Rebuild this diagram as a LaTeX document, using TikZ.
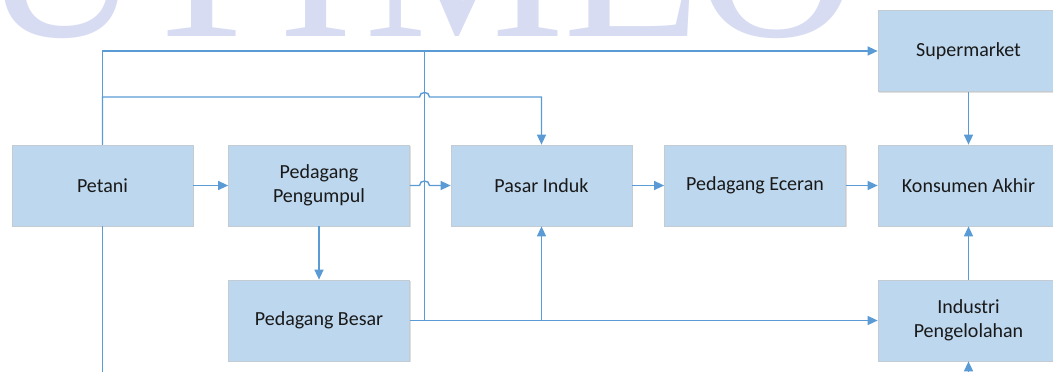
\documentclass[tikz,border=0pt]{standalone}
\usepackage{fontspec}
\setmainfont{Carlito}
\newfontfamily\wmfont{Liberation Serif}
\usetikzlibrary{arrows.meta,shadows}
\definecolor{boxfill}{HTML}{BDD7EE}
\definecolor{boxline}{HTML}{C3CBD3}
\definecolor{conn}{HTML}{5B9BD5}
\definecolor{wm}{RGB}{216,220,243}
\begin{document}
\begin{tikzpicture}[x=1pt,y=-1pt,
  proc/.style={rectangle, fill=boxfill, draw=boxline, line width=0.7pt,
    minimum width=181pt, minimum height=81pt, align=center,
    font=\fontsize{20}{24}\selectfont, text=black!90, inner sep=2pt,
    drop shadow={shadow xshift=1.2pt, shadow yshift=-1.2pt, opacity=0.25, fill=black!50}},
  link/.style={draw=conn, line width=1.4pt},
  arr/.style={link, -{Triangle[length=10pt,width=9pt]}},
  wmletter/.style={text=wm, font=\wmfont\fontsize{225}{225}\selectfont, anchor=base, inner sep=0pt}
]
\useasboundingbox (0,0) rectangle (1053,372);
% watermark fragments
\node[wmletter] (w1) at (62,36) {U};
\node[wmletter] (w2) at (202,36) {T};
\node[wmletter] (w3) at (316,36) {I};
\node[wmletter] (w4) at (465,36) {M};
\node[wmletter] (w5) at (632,36) {E};
\node[wmletter] (w6) at (777,36) {O};

% boxes
\node[proc] (petani) at (102.5,185.5) {Petani};
\node[proc] (pengumpul) at (319,185.5) {Pedagang\\Pengumpul};
\node[proc] (pasar) at (541.5,185.5) {Pasar Induk};
\node[proc] (eceran) at (755,185.5) {Pedagang Eceran};
\node[proc] (konsumen) at (968.5,185.5) {Konsumen Akhir};
\node[proc] (super) at (968.5,51) {Supermarket};
\node[proc] (industri) at (968.5,320.5) {Industri\\Pengelolahan};
\node[proc] (besar) at (319,320.5) {Pedagang Besar};

\coordinate (j) at (424.5,51);
\coordinate (b2) at (102.5,97);
\coordinate (pend) at (102.5,372);
\coordinate (iend) at (968.5,380);

% connectors
\draw[arr] (petani.north) |- (super.west);
\draw[arr] (petani.north) -- (b2) -- (419.5,97) .. controls (419.5,91) and (429.5,91) .. (429.5,97) -| (pasar.north);
\draw[arr] (petani.east) -- (pengumpul.west);
\draw[arr] (pengumpul.east) -- (419.5,185.5) .. controls (419.5,179.5) and (429.5,179.5) .. (429.5,185.5) -- (pasar.west);
\draw[arr] (pasar.east) -- (eceran.west);
\draw[arr] (eceran.east) -- (konsumen.west);
\draw[arr] (super.south) -- (konsumen.north);
\draw[arr] (industri.north) -- (konsumen.south);
\draw[arr] (pengumpul.south) -- (besar.north);
\draw[arr] (besar.east) -- (industri.west);
\draw[arr] (besar.east -| pasar.south) -- (pasar.south);
\draw[link] (besar.east -| j) -- (j);
\draw[link] (petani.south) -- (pend);
\draw[arr] (iend) -- (industri.south);
\end{tikzpicture}
\end{document}
